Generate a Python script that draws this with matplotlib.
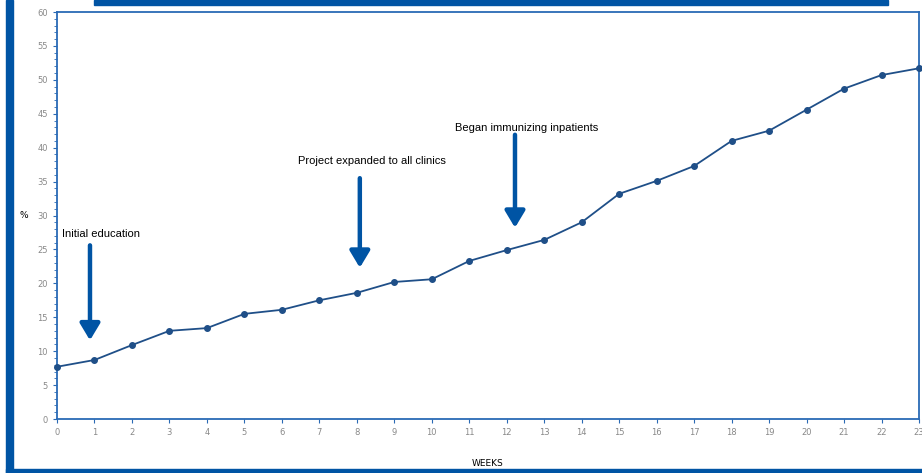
import matplotlib.pyplot as plt
import matplotlib.patches as patches

# data
weeks = list(range(24))
pct = [7.7, 8.7, 10.9, 13.0, 13.4, 15.5, 16.1, 17.5, 18.6, 20.2, 20.6, 23.3,
       24.9, 26.4, 29.0, 33.2, 35.1, 37.3, 41.0, 42.5, 45.6, 48.7, 50.7, 51.7]

event_labels = ["Initial education", "Project expanded to all clinics", "Began immunizing inpatients"]
event_weeks = [0.88, 8.08, 12.22]
arrow_top = [25.6, 35.5, 41.9]
arrow_tip = [11.6, 22.3, 28.2]
label_x = [0.13, 8.4, 12.54]
label_y = [27.3, 38.0, 42.9]

frame_blue = '#0054a4'
line_blue = '#1f4f88'
axis_blue = '#2a6ab5'

fig = plt.figure(figsize=(9.22, 4.73), dpi=100)
ax = fig.add_axes([57 / 922, 1 - 419 / 473, (919 - 57) / 922, (419 - 12) / 473])

ax.plot(weeks, pct, color=line_blue, lw=1.3, marker='o', ms=4, clip_on=False, zorder=3)

ax.set_xlim(0, 23)
ax.set_ylim(0, 60)
ax.set_xticks(weeks)
ax.set_yticks(range(0, 61, 5))
ax.set_yticks(range(0, 61, 1), minor=True)
for s in ax.spines.values():
    s.set_color(axis_blue)
    s.set_linewidth(1.3)
ax.tick_params(axis='both', which='major', colors=axis_blue, labelcolor='#888888',
               labelsize=6, length=3, width=0.8)
ax.tick_params(axis='y', which='minor', colors=axis_blue, length=2, width=0.6)
ax.set_xlabel('WEEKS', fontsize=6.5, labelpad=16)
ax.set_ylabel('%', fontsize=6.5, rotation=0, labelpad=10, va='center')

# event arrows
aligns = ['left', 'center', 'center']
for lab, wk, top, tip, lx, ly, ha in zip(event_labels, event_weeks, arrow_top, arrow_tip,
                                         label_x, label_y, aligns):
    ax.annotate('', xy=(wk, tip), xytext=(wk, top),
                arrowprops=dict(arrowstyle='-|>,head_width=0.6,head_length=1.0',
                                color=frame_blue, lw=3.2, shrinkA=0, shrinkB=0))
    ax.text(lx, ly, lab, fontsize=8, ha=ha, va='center', family='Liberation Sans')

# outer slide frame
fig.patches.append(patches.Rectangle((6 / 922, 0), 7 / 922, 1, transform=fig.transFigure,
                                     color=frame_blue, zorder=0))
fig.patches.append(patches.Rectangle((94 / 922, 1 - 5 / 473), (888 - 94) / 922, 5 / 473,
                                     transform=fig.transFigure, color=frame_blue, zorder=0))
fig.patches.append(patches.Rectangle((6 / 922, 0), 1, 4 / 473, transform=fig.transFigure,
                                     color=frame_blue, zorder=0))

fig.savefig('out.png', dpi=100)
